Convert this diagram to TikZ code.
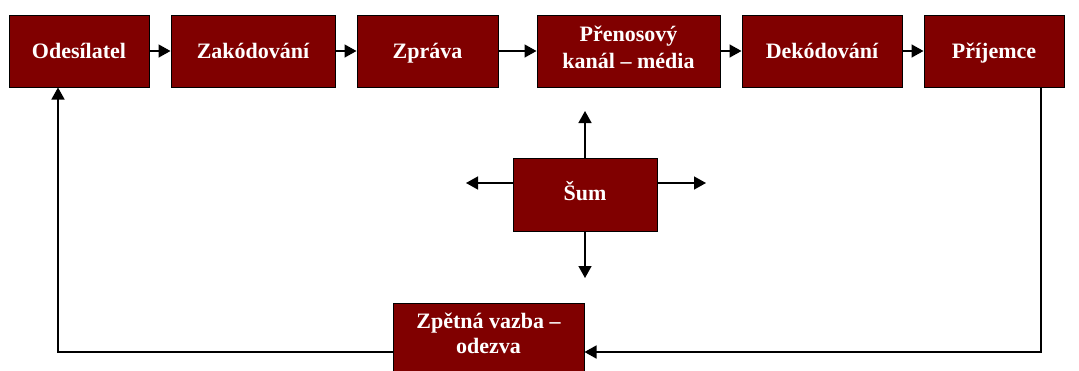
\documentclass[tikz,border=0pt]{standalone}
\usepackage{fontspec}
\setmainfont{Liberation Serif}
\usetikzlibrary{arrows.meta}
\definecolor{boxred}{RGB}{128,0,0}
\tikzset{
  box/.style={draw=black, line width=1pt, fill=boxred, text=white, inner sep=0pt,
    font=\fontsize{22}{27}\selectfont\bfseries, align=center, anchor=center,
    text height=14pt, text depth=0pt, minimum height=72pt},
  conn/.style={line width=1.5pt, -{Triangle[length=12pt,width=13pt]}},
}
\begin{document}
\begin{tikzpicture}[x=1pt,y=-1pt]
\useasboundingbox (0,0) rectangle (1079,370);
\clip (0,0) rectangle (1079,370);
\node[box, minimum width=140pt] (ode) at (79,51) {Odesílatel};
\node[box, minimum width=164pt] (zak) at (253,51) {Zakódování};
\node[box, minimum width=141pt] (zpr) at (427.5,51) {Zpráva};
\node[box, minimum width=183pt, text height=34pt] (pre) at (628.5,51) {Přenosový\\kanál – média};
\node[box, minimum width=160pt] (dek) at (822,51) {Dekódování};
\node[box, minimum width=140pt] (pri) at (994,51) {Příjemce};
\node[box, minimum width=144pt, minimum height=73pt, text height=12pt] (sum) at (585,194.5) {Šum};
\node[box, minimum width=191pt, text height=28pt, font=\fontsize{22}{25}\selectfont\bfseries] (zpv) at (488.5,339) {Zpětná vazba –\\odezva};
\draw[conn] (ode) -- (zak);
\draw[conn] (zak) -- (zpr);
\draw[conn] (zpr) -- (pre);
\draw[conn] (pre) -- (dek);
\draw[conn] (dek) -- (pri);
\coordinate (nup) at (585,111);
\coordinate (ndown) at (585,278);
\coordinate (nleft) at (466,183);
\coordinate (nright) at (706,183);
\draw[conn] (sum.north) -- (nup);
\draw[conn] (sum.south) -- (ndown);
\draw[conn] (sum.west |- nleft) -- (nleft);
\draw[conn] (sum.east |- nright) -- (nright);
\coordinate (rc) at (1041,352);
\coordinate (lc) at (58,352);
\draw[conn] (pri.south -| rc) -- (rc) -- (zpv.east |- rc);
\draw[conn] (zpv.west |- lc) -- (lc) -- (ode.south -| lc);
\end{tikzpicture}
\end{document}
